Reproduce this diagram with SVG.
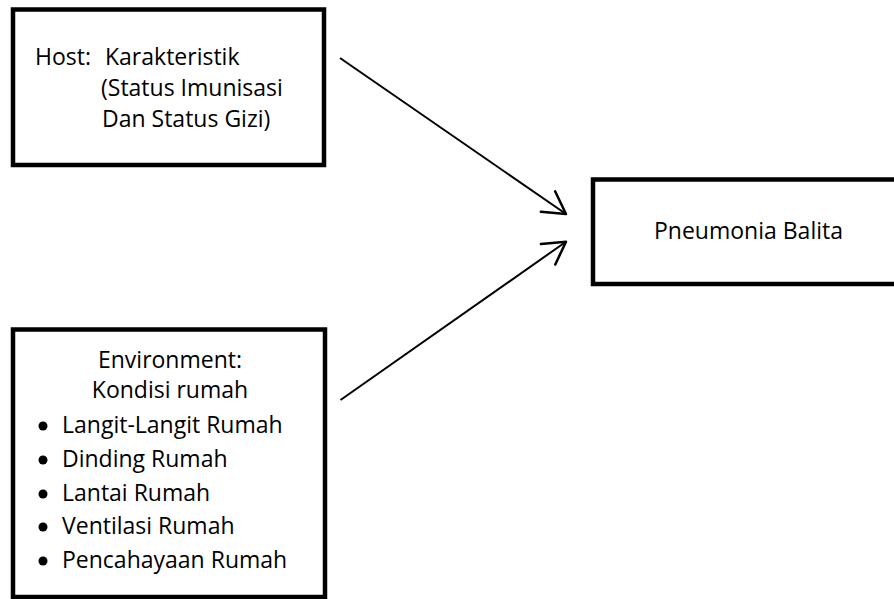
<svg xmlns="http://www.w3.org/2000/svg" width="894" height="599" viewBox="0 0 894 599">
<style>
.box{fill:#fff;stroke:#000;stroke-width:4.5;stroke-linejoin:miter}
.t{font-family:"Open Sans","Noto Sans",sans-serif;font-size:23px;fill:#000}
.c{stroke:#000;stroke-width:2;fill:none}
</style>
<defs>
<marker id="arr" markerUnits="userSpaceOnUse" markerWidth="30" markerHeight="30" viewBox="-20 -12 22 24" refX="0" refY="0" orient="auto">
<path d="M -17.5 -10 L 0 0 L -17.5 10" fill="none" stroke="#000" stroke-width="2" stroke-linecap="round" stroke-linejoin="round"/>
</marker>
</defs>
<rect width="894" height="599" fill="#fff"/>
<g id="host">
<rect class="box" x="13" y="9.5" width="311" height="155.5"/>
<text class="t" x="35" y="65">Host:</text>
<text class="t" x="105" y="65">Karakteristik</text>
<text class="t" x="101" y="96">(Status Imunisasi</text>
<text class="t" x="102" y="127">Dan Status Gizi)</text>
</g>
<g id="pneumonia">
<rect class="box" x="593" y="179.5" width="320" height="104.5"/>
<text class="t" x="654" y="239">Pneumonia Balita</text>
</g>
<g id="environment">
<rect class="box" x="13" y="329.5" width="312" height="267.5"/>
<text class="t" x="170" y="368" text-anchor="middle">Environment:</text>
<text class="t" x="170" y="398" text-anchor="middle">Kondisi rumah</text>
<circle cx="43" cy="426" r="4.5"/>
<text class="t" x="62" y="433">Langit-Langit Rumah</text>
<circle cx="43" cy="460" r="4.5"/>
<text class="t" x="62" y="467">Dinding Rumah</text>
<circle cx="43" cy="494" r="4.5"/>
<text class="t" x="62" y="501">Lantai Rumah</text>
<circle cx="43" cy="527" r="4.5"/>
<text class="t" x="62" y="534">Ventilasi Rumah</text>
<circle cx="43" cy="561" r="4.5"/>
<text class="t" x="62" y="568">Pencahayaan Rumah</text>
</g>
<g id="connectors">
<line class="c" x1="340" y1="58" x2="566" y2="214" marker-end="url(#arr)"/>
<line class="c" x1="340.5" y1="400" x2="566" y2="241.7" marker-end="url(#arr)"/>
</g>
</svg>
